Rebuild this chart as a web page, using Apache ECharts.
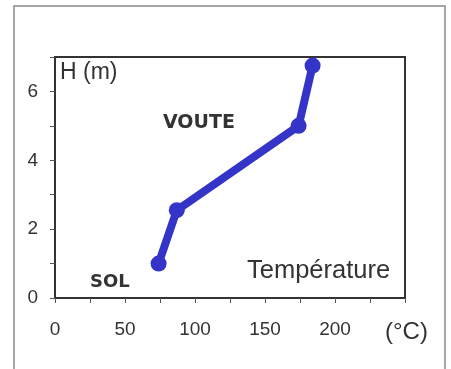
<!DOCTYPE html>
<html>
<head>
<meta charset="utf-8">
<title>Température / hauteur</title>
<script src="https://cdn.jsdelivr.net/npm/echarts@6/dist/echarts.min.js"></script>
<style>
  html, body { margin: 0; padding: 0; background: #fff; }
  #chart { width: 451px; height: 369px; }
</style>
</head>
<body>
<div id="chart"></div>
<script>
// valeurs
var temperature = [74, 87, 174, 184];   // °C
var hauteur = [1.0, 2.55, 5.0, 6.75];   // m
var xLabels = [0, 50, 100, 150, 200];
var yLabels = [0, 2, 4, 6];

var points = temperature.map(function (t, i) { return [t, hauteur[i]]; });

var myChart = echarts.init(document.getElementById('chart'));
var txt = '#333';

var option = {
    animation: false,
    grid: {
        left: 55, top: 57, width: 350, height: 241,
        show: true, borderColor: '#333', borderWidth: 2
    },
    xAxis: {
        type: 'value', min: 0, max: 250, interval: 25,
        splitLine: { show: false },
        axisLine: { lineStyle: { color: '#333', width: 2 } },
        axisTick: { length: 5, lineStyle: { color: '#555', width: 1 } },
        axisLabel: {
            margin: 22, fontSize: 19, color: txt, fontFamily: 'Liberation Sans',
            formatter: function (v) { return xLabels.indexOf(v) >= 0 ? v : ''; }
        }
    },
    yAxis: {
        type: 'value', min: 0, max: 7, interval: 1,
        splitLine: { show: false },
        axisLine: { lineStyle: { color: '#333', width: 2 } },
        axisTick: { length: 5, lineStyle: { color: '#555', width: 1 } },
        axisLabel: {
            margin: 17, fontSize: 19, color: txt, fontFamily: 'Liberation Sans',
            formatter: function (v) { return yLabels.indexOf(v) >= 0 ? v : ''; }
        }
    },
    series: [{
        type: 'line',
        data: points,
        symbol: 'circle',
        symbolSize: 16,
        lineStyle: { color: '#3434c8', width: 8 },
        itemStyle: { color: '#3434c8' },
        z: 5
    }],
    graphic: [
        { type: 'rect', shape: { x: 14, y: 6, width: 431, height: 372 },
          style: { fill: null, stroke: '#8a8a8a', lineWidth: 1.5 }, silent: true },
        { type: 'text', left: 60, top: 61,
          style: { text: 'H (m)', fontSize: 23, fill: txt, fontFamily: 'Liberation Sans' } },
        { type: 'text', left: 163, top: 114,
          style: { text: 'VOUTE', fontSize: 19, fontWeight: 'bold', fill: '#333', fontFamily: 'DejaVu Sans' } },
        { type: 'text', left: 90, top: 273,
          style: { text: 'SOL', fontSize: 18, fontWeight: 'bold', fill: '#333', fontFamily: 'DejaVu Sans' } },
        { type: 'text', left: 247, top: 258,
          style: { text: 'Température', fontSize: 25.5, fill: txt, fontFamily: 'Liberation Sans' } },
        { type: 'text', left: 385, top: 320,
          style: { text: '(°C)', fontSize: 24, fill: txt, fontFamily: 'Liberation Sans' } }
    ]
};

myChart.setOption(option);
</script>
</body>
</html>
